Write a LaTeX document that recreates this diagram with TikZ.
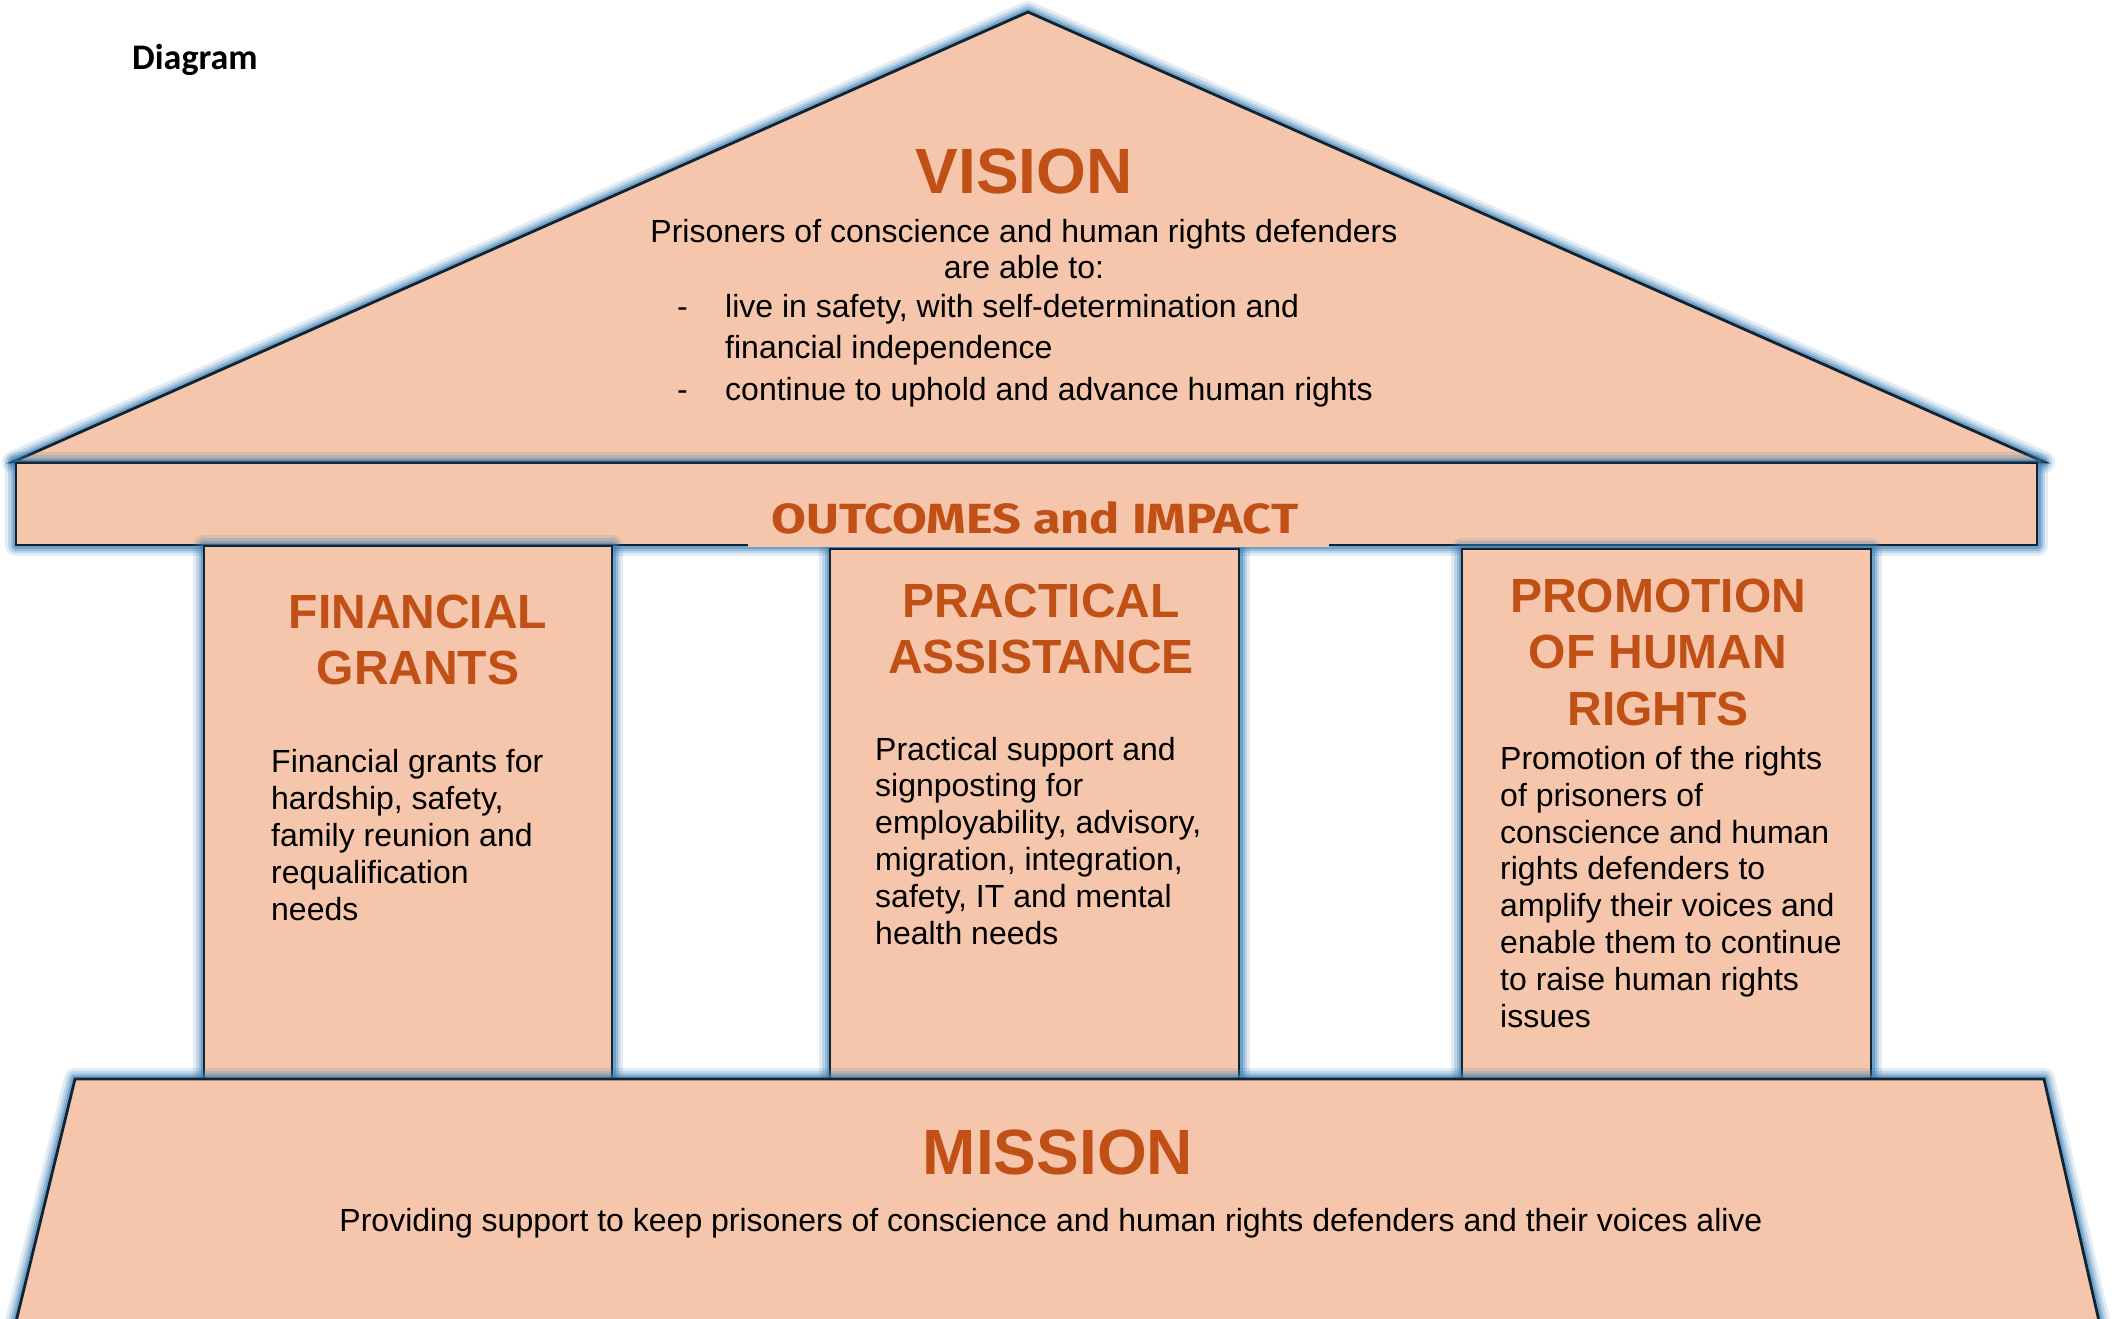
\documentclass[tikz,border=0pt]{standalone}
\usepackage{fontspec}
\setmainfont{Liberation Sans}
\newfontfamily\diagfont{Carlito}
\newfontfamily\outfont{Fira Sans}
\definecolor{peach}{RGB}{245,198,171}
\definecolor{rust}{RGB}{192,80,22}
\definecolor{edgec}{RGB}{16,36,52}
\definecolor{glowc}{RGB}{55,125,180}
\tikzset{
  bldg/.style={fill=peach, draw=edgec, line width=2.8pt, line join=miter},
  ttl/.style={text=rust, font=\fontsize{48}{56.5}\selectfont\bfseries, align=center, anchor=base, inner sep=0pt},
  bodytxt/.style={font=\fontsize{32}{36.8}\selectfont, align=left, anchor=base west, inner sep=0pt},
  ctrtxt/.style={font=\fontsize{32}{36}\selectfont, align=center, anchor=base, inner sep=0pt},
}
\newcommand\glowit[1]{\foreach \w/\o in {22/0.14,16/0.2,11/0.28,7/0.4}{\draw[line width=\w pt, draw=glowc, opacity=\o, line join=round] #1;}}
\begin{document}
\begin{tikzpicture}[x=1pt,y=-1pt]
\useasboundingbox (0,0) rectangle (2115,1318);
\clip (0,0) rectangle (2115,1318);
\fill[white] (0,0) rectangle (2115,1318);
% roof
\coordinate (apex) at (1028,12);
\coordinate (rl) at (13,462);
\coordinate (rr) at (2044,462);
\glowit{(apex) -- (rl) -- (rr) -- cycle}
\draw[bldg] (apex) -- (rl) -- (rr) -- cycle;
% entablature band
\coordinate (b1) at (16,463);
\coordinate (b2) at (2037,545);
\glowit{(b1) rectangle (b2)}
\draw[bldg] (b1) rectangle (b2);
% pillars
\coordinate (p1a) at (204,546);  \coordinate (p1b) at (612,1079);
\coordinate (p2a) at (830,549);  \coordinate (p2b) at (1239,1079);
\coordinate (p3a) at (1462,549); \coordinate (p3b) at (1871,1079);
\glowit{(p1a) rectangle (p1b)}
\draw[bldg] (p1a) rectangle (p1b);
\glowit{(p2a) rectangle (p2b)}
\draw[bldg] (p2a) rectangle (p2b);
\glowit{(p3a) rectangle (p3b)}
\draw[bldg] (p3a) rectangle (p3b);
% base
\coordinate (m1) at (75,1079);
\coordinate (m2) at (2044,1079);
\coordinate (m3) at (2101,1330);
\coordinate (m4) at (14,1330);
\glowit{(m1) -- (m2) -- (m3) -- (m4) -- cycle}
\draw[bldg] (m1) -- (m2) -- (m3) -- (m4) -- cycle;
% outcomes label background
\coordinate (o1) at (748,477);
\coordinate (o2) at (1329,547);
\fill[peach] (o1) rectangle (o2);
% texts (base anchor of multi-line nodes = baseline of last line)
\node[anchor=base west, inner sep=0pt, font=\diagfont\bfseries\fontsize{36}{40}\selectfont] (diag) at (132,69) {Diagram};
\node[text=rust, anchor=base, inner sep=0pt, font=\fontsize{64}{70}\selectfont\bfseries] (vision) at (1024,193) {VISION};
\node[ctrtxt] (vis1) at (1024,278) {Prisoners of conscience and human rights defenders\\are able to:};
\node[anchor=base west, inner sep=0pt, font=\fontsize{32}{36}\selectfont] (dash1) at (677,317) {-};
\node[bodytxt, font=\fontsize{32}{41}\selectfont] (vis2) at (725,358) {live in safety, with self-determination and\\financial independence};
\node[anchor=base west, inner sep=0pt, font=\fontsize{32}{36}\selectfont] (dash2) at (677,400) {-};
\node[bodytxt] (vis3) at (725,400) {continue to uphold and advance human rights};
\node[anchor=base, inner sep=0pt] (outc) at (1035,533) {\resizebox{527pt}{32pt}{\outfont\bfseries\color{rust}OUTCOMES and IMPACT}};
\node[ttl] (fin) at (418,684.5) {FINANCIAL\\GRANTS};
\node[ttl] (prac) at (1041,673.5) {PRACTICAL\\ASSISTANCE};
\node[ttl] (prom) at (1658,725) {PROMOTION\\OF HUMAN\\RIGHTS};
\node[bodytxt] (fintxt) at (271,920) {Financial grants for\\hardship, safety,\\family reunion and\\requalification\\needs};
\node[bodytxt] (practxt) at (875,944) {Practical support and\\signposting for\\employability, advisory,\\migration, integration,\\safety, IT and mental\\health needs};
\node[bodytxt] (promtxt) at (1500,1027) {Promotion of the rights\\of prisoners of\\conscience and human\\rights defenders to\\amplify their voices and\\enable them to continue\\to raise human rights\\issues};
\node[text=rust, anchor=base, inner sep=0pt, font=\fontsize{64}{70}\selectfont\bfseries] (mission) at (1058,1174) {MISSION};
\node[anchor=base, inner sep=0pt, font=\fontsize{32}{36}\selectfont] (mistxt) at (1051,1231) {Providing support to keep prisoners of conscience and human rights defenders and their voices alive};
\end{tikzpicture}
\end{document}
